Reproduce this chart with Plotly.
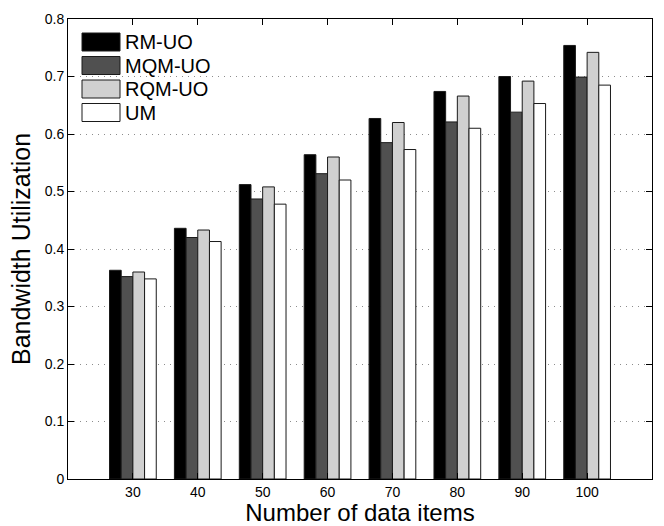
import plotly.graph_objects as go

categories = ["30", "40", "50", "60", "70", "80", "90", "100"]
series_names = ["RM-UO", "MQM-UO", "RQM-UO", "UM"]
rm_uo = [0.363, 0.436, 0.512, 0.564, 0.627, 0.674, 0.700, 0.754]
mqm_uo = [0.352, 0.420, 0.487, 0.531, 0.585, 0.621, 0.638, 0.699]
rqm_uo = [0.360, 0.433, 0.508, 0.560, 0.620, 0.666, 0.692, 0.742]
um = [0.348, 0.413, 0.478, 0.520, 0.573, 0.610, 0.653, 0.685]
series_values = [rm_uo, mqm_uo, rqm_uo, um]
colors = ["#000000", "#505050", "#d0d0d0", "#ffffff"]
y_ticks = [0, 0.1, 0.2, 0.3, 0.4, 0.5, 0.6, 0.7, 0.8]
y_tick_labels = ["0", "0.1", "0.2", "0.3", "0.4", "0.5", "0.6", "0.7", "0.8"]

xpos = list(range(1, len(categories) + 1))
FONT = "Liberation Sans, Arial, sans-serif"

fig = go.Figure()
for name, vals, col in zip(series_names, series_values, colors):
    fig.add_trace(go.Bar(
        x=xpos, y=vals, name=name,
        marker=dict(color=col, line=dict(color="#1a1a1a", width=1)),
        showlegend=False,
    ))

# custom MATLAB-like legend (keys in paper coords)
shapes = []
annotations = []
ML, MR, MT, MB = 68, 12, 19, 47
plot_w = 664 - ML - MR
plot_h = 526 - MT - MB
for i, (name, col) in enumerate(zip(series_names, colors)):
    cy = 42 + i * 23.5  # pixel centre of row
    y_top = 1 - (cy - 9 - MT) / plot_h
    y_bot = 1 - (cy + 9 - MT) / plot_h
    x0 = (82 - ML) / plot_w
    x1 = (120 - ML) / plot_w
    shapes.append(dict(type="rect", xref="paper", yref="paper",
                       x0=x0, x1=x1, y0=y_bot, y1=y_top,
                       fillcolor=col, line=dict(color="#1a1a1a", width=1)))
    annotations.append(dict(xref="paper", yref="paper",
                            x=(123 - ML) / plot_w, y=1 - (cy - MT) / plot_h,
                            text=name, showarrow=False, xanchor="left",
                            yanchor="middle",
                            font=dict(family=FONT, size=20, color="#000000")))

fig.update_layout(
    width=664, height=526,
    margin=dict(l=ML, r=MR, t=MT, b=MB),
    paper_bgcolor="white", plot_bgcolor="white",
    barmode="group", bargap=0.28, bargroupgap=0,
    shapes=shapes, annotations=annotations,
    font=dict(family=FONT, size=14, color="#000000"),
    xaxis=dict(
        range=[0, 9], tickvals=xpos, ticktext=categories,
        ticks="inside", ticklen=6, tickcolor="#000000",
        showline=True, linecolor="#000000", linewidth=1, mirror="ticks",
        showgrid=False, zeroline=False, automargin=False,
        tickfont=dict(family=FONT, size=14),
        title=dict(text="Number of data items",
                   font=dict(family=FONT, size=24), standoff=0),
    ),
    yaxis=dict(
        range=[0, 0.8], tickvals=y_ticks, ticktext=y_tick_labels,
        ticks="inside", ticklen=6, tickcolor="#000000",
        showline=True, linecolor="#000000", linewidth=1, mirror="ticks",
        showgrid=True, gridcolor="#8c8c8c", griddash="1px,5px", gridwidth=1,
        zeroline=False, automargin=False,
        tickfont=dict(family=FONT, size=14),
        title=dict(text="Bandwidth Utilization",
                   font=dict(family=FONT, size=25), standoff=6),
    ),
)

fig.write_html("out.html")
